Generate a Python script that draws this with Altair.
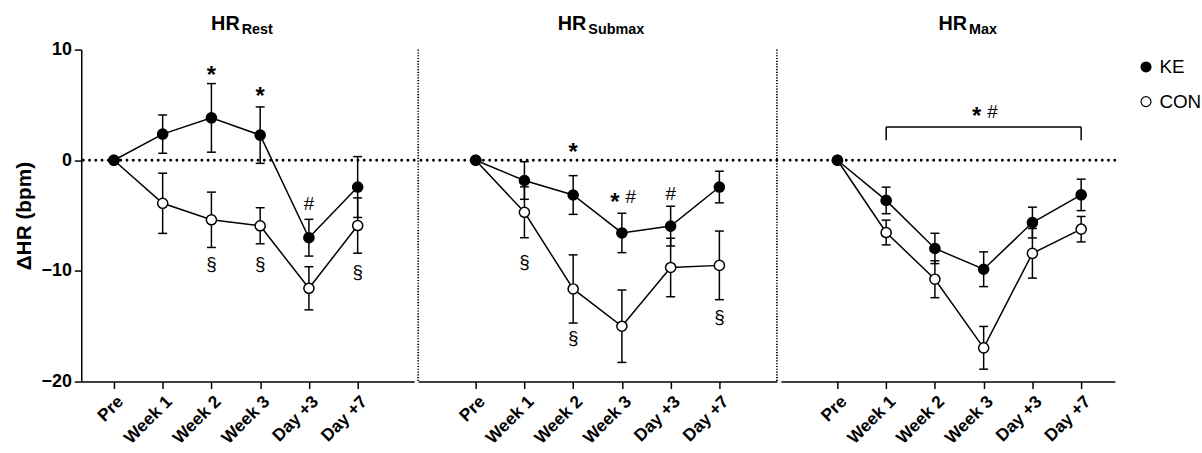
import altair as alt
import pandas as pd

# ---------------- data ----------------
timepoints = ["Pre", "Week 1", "Week 2", "Week 3", "Day +3", "Day +7"]
groups = ["KE", "CON"]
panels = ["Rest", "Submax", "Max"]

rest_ke_mean = [0, 2.36, 3.83, 2.27, -7.0, -2.42]
rest_ke_se = [0, 1.73, 3.1, 2.55, 1.66, 2.75]
rest_con_mean = [0, -3.89, -5.38, -5.92, -11.57, -5.9]
rest_con_se = [0, 2.72, 2.5, 1.63, 1.95, 2.5]

submax_ke_mean = [0, -1.83, -3.14, -6.57, -5.95, -2.42]
submax_ke_se = [0, 1.7, 1.75, 1.78, 1.8, 1.43]
submax_con_mean = [0, -4.7, -11.63, -15.0, -9.69, -9.5]
submax_con_se = [0, 2.3, 3.08, 3.27, 2.65, 3.1]

max_ke_mean = [0, -3.63, -7.97, -9.85, -5.63, -3.13]
max_ke_se = [0, 1.2, 1.37, 1.57, 1.39, 1.42]
max_con_mean = [0, -6.53, -10.75, -16.95, -8.41, -6.23]
max_con_se = [0, 1.12, 1.67, 1.93, 2.24, 1.15]

# significance annotations
ann_panel = ["Rest", "Rest", "Rest", "Rest", "Rest", "Rest",
             "Submax", "Submax", "Submax", "Submax", "Submax", "Submax", "Max"]
ann_time = ["Week 2", "Week 3", "Day +3", "Week 2", "Week 3", "Day +7",
            "Week 2", "Week 3", "Day +3", "Week 1", "Week 2", "Day +7", "Week 3"]
ann_value = [8.16, 6.28, -4.0, -9.37, -9.37, -10.07,
             1.17, -3.3, -3.05, -9.2, -16.1, -14.2, 4.4]
ann_label = ["*", "*", "#", "§", "§", "§", "*", "* #", "#", "§", "§", "§", "* #"]

# bracket in HR max panel
bracket_from = "Week 1"
bracket_to = "Day +7"
bracket_top = 3.0
bracket_bottom = 1.8

y_ticks = [-20, -10, 0, 10]

# ---------------- tables ----------------
series = {
    "Rest": {"KE": (rest_ke_mean, rest_ke_se), "CON": (rest_con_mean, rest_con_se)},
    "Submax": {"KE": (submax_ke_mean, submax_ke_se), "CON": (submax_con_mean, submax_con_se)},
    "Max": {"KE": (max_ke_mean, max_ke_se), "CON": (max_con_mean, max_con_se)},
}
rows = []
for p in panels:
    for g in ["CON", "KE"]:  # CON first so KE is drawn on top
        m, s = series[p][g]
        for i, t in enumerate(timepoints):
            rows.append(dict(panel=p, group=g, time=t, idx=i, mean=m[i], se=s[i],
                             lo=m[i] - s[i], hi=m[i] + s[i]))
df = pd.DataFrame(rows)

ann = pd.DataFrame(dict(panel=ann_panel, time=ann_time, value=ann_value, label=ann_label))
ann["idx"] = [timepoints.index(t) for t in ann["time"]]

FONT = "Liberation Sans"
label_expr = "[" + ",".join("'" + t + "'" for t in timepoints) + "][datum.value]"

# x domain per panel (in category steps) and widths
x_domains = {"Rest": [-0.67, 6.16], "Submax": [-1.18, 6.18], "Max": [-1.16, 5.69]}
widths = {"Rest": 336, "Submax": 362, "Max": 337}
title_junction = {"Rest": 2.58, "Submax": 2.27, "Max": 2.66}
HEIGHT = 335

fill_scale = alt.Scale(domain=groups, range=["black", "white"])
legend = alt.Legend(title=" ", titleFontSize=2, titlePadding=6, orient="right", offset=20,
                    padding=0, labelFont=FONT, labelFontSize=19,
                    labelFontWeight="normal", labelColor="black", symbolType="circle",
                    symbolSize=100, symbolStrokeColor="black", symbolStrokeWidth=1.2,
                    rowPadding=15, labelOffset=4)


def make_panel(p):
    x_axis = alt.Axis(values=list(range(len(timepoints))), labelExpr=label_expr, title=None,
                      labelAngle=-45, labelAlign="right", labelBaseline="top",
                      labelFlush=False, labelOverlap=False, grid=False, tickSize=7,
                      labelPadding=4, labelFontSize=17.5, labelFont=FONT, labelFontWeight="bold")
    x = alt.X("idx:Q", scale=alt.Scale(domain=x_domains[p], nice=False, zero=False), axis=x_axis)
    yscale = alt.Scale(domain=[-20, 10], nice=False, zero=False)
    if p == "Rest":
        y_axis = alt.Axis(values=y_ticks, title="ΔHR (bpm)", grid=False, tickSize=7,
                          labelFontSize=18, labelFont=FONT, labelFontWeight="bold", labelPadding=3,
                          titleFontSize=21, titleFont=FONT, titleFontWeight="bold", titlePadding=7)
    else:
        y_axis = None

    d = df[df.panel == p]
    base = alt.Chart(d)
    zero = alt.Chart(pd.DataFrame({"v": [0]})).mark_rule(
        color="black", strokeWidth=2.8, strokeDash=[0.1, 6.2], strokeCap="round"
    ).encode(y=alt.Y("v:Q", scale=yscale, axis=y_axis))

    err = base.transform_filter("datum.se > 0")
    err_rule = err.mark_rule(color="black", strokeWidth=1.5).encode(
        x=x, y=alt.Y("lo:Q", scale=yscale), y2="hi:Q")
    cap_lo = err.mark_tick(color="black", thickness=1.5, size=9, opacity=1,
                           orient="horizontal").encode(
        x=x, y=alt.Y("lo:Q", scale=yscale))
    cap_hi = err.mark_tick(color="black", thickness=1.5, size=9, opacity=1,
                           orient="horizontal").encode(
        x=x, y=alt.Y("hi:Q", scale=yscale))
    line = base.mark_line(color="black", strokeWidth=1.5).encode(
        x=x, y=alt.Y("mean:Q", scale=yscale), detail="group:N", order="idx:Q")
    pts = base.mark_point(filled=True, shape="circle", size=105, stroke="black",
                          strokeWidth=1.5, opacity=1).encode(
        x=x, y=alt.Y("mean:Q", scale=yscale),
        fill=alt.Fill("group:N", scale=fill_scale, legend=legend))

    a = alt.Chart(ann[ann.panel == p])
    star = a.transform_filter("datum.label == '*'").mark_text(
        text="*", font=FONT, fontSize=24, fontWeight="bold", color="black", dy=6
    ).encode(x=x, y=alt.Y("value:Q", scale=yscale))
    sym = a.transform_filter("datum.label == '#' || datum.label == '§'").mark_text(
        font=FONT, fontSize=19, fontWeight="normal", color="black", baseline="middle"
    ).encode(x=x, y=alt.Y("value:Q", scale=yscale), text="label:N")
    combo_star = a.transform_filter("datum.label == '* #'").mark_text(
        text="*", font=FONT, fontSize=24, fontWeight="bold", color="black", dy=6, dx=-7
    ).encode(x=x, y=alt.Y("value:Q", scale=yscale))
    combo_hash = a.transform_filter("datum.label == '* #'").mark_text(
        text="#", font=FONT, fontSize=19, fontWeight="normal", color="black", dx=9,
        baseline="middle"
    ).encode(x=x, y=alt.Y("value:Q", scale=yscale))

    one = alt.Chart(pd.DataFrame({"k": [p]}))
    t_hr = one.mark_text(text="HR", align="right", baseline="alphabetic", font=FONT,
                         fontSize=20, fontWeight="bold", color="black").encode(
        x=alt.datum(title_junction[p]), y=alt.value(-20))
    t_sub = one.mark_text(align="left", baseline="alphabetic", font=FONT, fontSize=14.5,
                          fontWeight="bold", color="black", dx=2).encode(
        x=alt.datum(title_junction[p]), y=alt.value(-15.5), text="k:N")

    layers = [zero, err_rule, cap_lo, cap_hi, line, pts, star, sym, combo_star, combo_hash,
              t_hr, t_sub]

    if p == "Submax":
        sep_df = pd.DataFrame({"xs": x_domains[p], "y1": [10, 10], "y2": [-20, -20]})
        sep = alt.Chart(sep_df).mark_rule(color="black", strokeWidth=1.8,
                                           strokeDash=[1.2, 1.6]).encode(
            x=alt.X("xs:Q"), y=alt.Y("y1:Q", scale=yscale), y2="y2:Q")
        layers.append(sep)
    if p == "Max":
        bdf = pd.DataFrame({"x1": [timepoints.index(bracket_from)],
                            "x2": [timepoints.index(bracket_to)],
                            "top": [bracket_top], "bot": [bracket_bottom]})
        bh = alt.Chart(bdf).mark_rule(color="black", strokeWidth=1.5).encode(
            x=alt.X("x1:Q"), x2="x2:Q", y=alt.Y("top:Q", scale=yscale))
        bl = alt.Chart(bdf).mark_rule(color="black", strokeWidth=1.5).encode(
            x=alt.X("x1:Q"), y=alt.Y("top:Q", scale=yscale), y2="bot:Q")
        br = alt.Chart(bdf).mark_rule(color="black", strokeWidth=1.5).encode(
            x=alt.X("x2:Q"), y=alt.Y("top:Q", scale=yscale), y2="bot:Q")
        layers += [bh, bl, br]

    return alt.layer(*layers).properties(width=widths[p], height=HEIGHT)


chart = alt.hconcat(*[make_panel(p) for p in panels], spacing=0).properties(
    padding={"left": 13, "top": 12, "right": 0, "bottom": 0}
).configure_view(stroke=None).configure_axis(
    domainColor="black", domainWidth=1.5, tickColor="black", tickWidth=1.5,
    labelColor="black", titleColor="black"
)

chart.save("out.html", embed_options={"renderer": "svg", "actions": False})
